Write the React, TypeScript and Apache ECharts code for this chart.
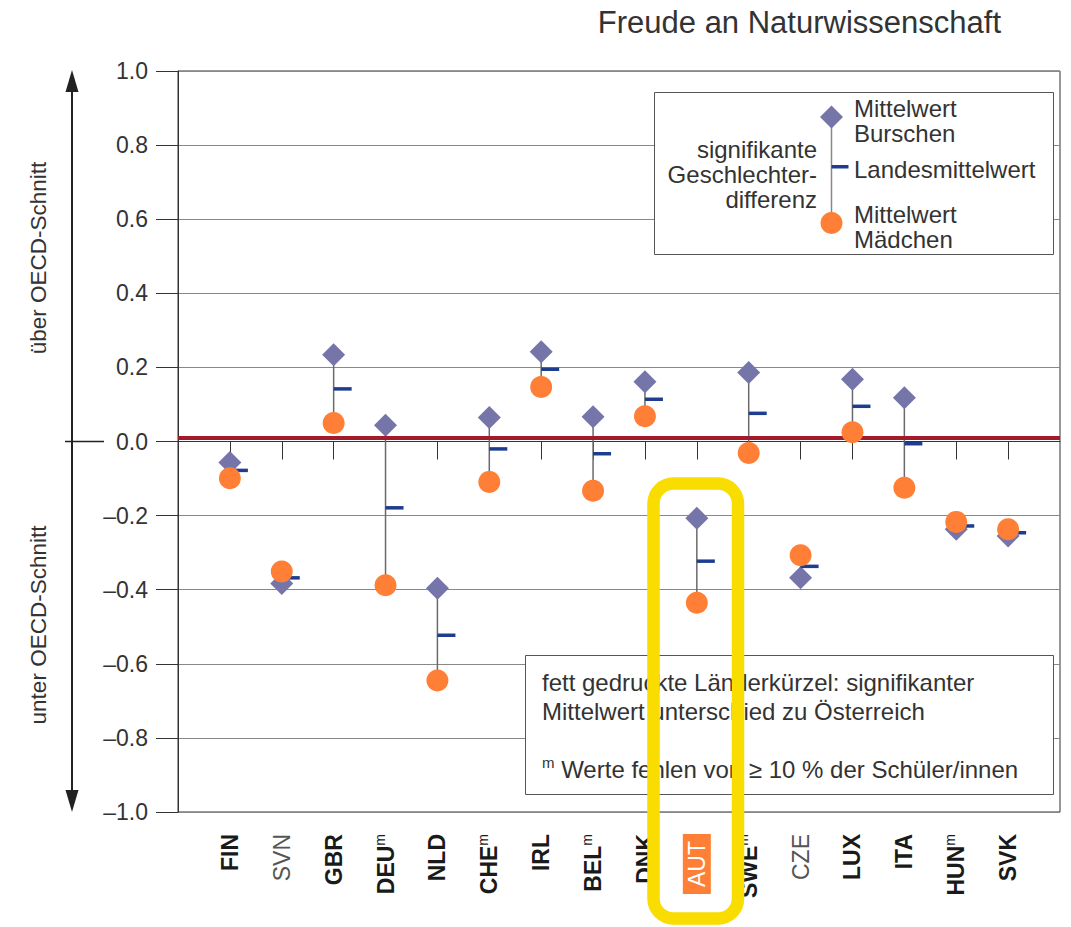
import React, { useEffect, useRef } from "react";
import * as echarts from "echarts";

const countries = ["FIN", "SVN", "GBR", "DEU", "NLD", "CHE", "IRL", "BEL", "DNK", "AUT", "SWE", "CZE", "LUX", "ITA", "HUN", "SVK"];
const boys = [-0.057, -0.383, 0.234, 0.044, -0.396, 0.065, 0.242, 0.067, 0.161, -0.207, 0.186, -0.368, 0.168, 0.118, -0.237, -0.255];
const girls = [-0.099, -0.351, 0.05, -0.388, -0.645, -0.109, 0.147, -0.133, 0.068, -0.435, -0.031, -0.307, 0.025, -0.125, -0.217, -0.237];
const means = [-0.078, -0.368, 0.142, -0.179, -0.523, -0.02, 0.195, -0.033, 0.114, -0.323, 0.076, -0.337, 0.095, -0.006, -0.228, -0.246];
const significant = [false, false, true, true, true, true, true, true, true, true, true, true, true, true, false, false];
const boldLabel = [true, false, true, true, true, true, true, true, true, true, true, false, true, true, true, true];
const missingMark = ["DEU", "CHE", "BEL", "SWE", "HUN"];
const highlighted = "AUT";
const oecdMean = 0.015;
const yTicks = { min: -1, max: 1, interval: 0.2 };

const FONT = "'Liberation Sans', Arial, sans-serif";
const TXT = "#333";

export default function App() {
  const ref = useRef<HTMLDivElement>(null);
  useEffect(() => {
    if (!ref.current) return;
    const chart = echarts.init(ref.current, undefined, { renderer: "svg" });
    const cats = ["", ...countries, ""];
    const idx = (i: number) => i + 1;
    const boyData = countries.map((_, i) => [idx(i), boys[i]]);
    const girlData = countries.map((_, i) => [idx(i), girls[i]]);
    const meanData = countries.map((_, i) => [idx(i), means[i]]);
    const connData = countries
      .map((_, i) => (significant[i] ? [idx(i), boys[i], girls[i]] : null))
      .filter((d) => d !== null);

    const option: any = {
      animation: false,
      grid: { left: 178, right: 11, top: 71, bottom: 115, show: true, borderColor: "#333", borderWidth: 1 },
      xAxis: {
        type: "category",
        data: cats,
        boundaryGap: false,
        axisLine: { lineStyle: { color: "#333", width: 1 } },
        axisTick: {
          length: 18,
          lineStyle: { color: "#333" },
          interval: (i: number) => i > 0 && i < cats.length - 1,
        },
        axisLabel: {
          rotate: 90,
          margin: 22,
          interval: 0,
          fontFamily: FONT,
          formatter: (v: string) => {
            const i = countries.indexOf(v);
            if (i < 0) return "";
            const sup = missingMark.includes(v) ? "{sup|m}" : "";
            if (v === highlighted) return `{hl|${v}}`;
            return (boldLabel[i] ? `{b|${v}}` : `{n|${v}}`) + sup;
          },
          rich: {
            b: { fontFamily: FONT, fontWeight: "bold", fontSize: 23, color: "#1a1a1a", lineHeight: 26 },
            n: { fontFamily: FONT, fontSize: 23, color: "#555", lineHeight: 26 },
            sup: { fontFamily: FONT, fontSize: 14, color: "#1a1a1a", lineHeight: 13, verticalAlign: "top" },
            hl: {
              fontFamily: FONT,
              fontSize: 23,
              color: "#fff",
              backgroundColor: "#FF7F36",
              padding: [3, 7, 2, 7],
              lineHeight: 24,
            },
          },
        },
        splitLine: { show: false },
      },
      yAxis: {
        type: "value",
        min: yTicks.min,
        max: yTicks.max,
        interval: yTicks.interval,
        axisLine: { show: true, lineStyle: { color: "#333" } },
        axisTick: { show: true, length: 22, lineStyle: { color: "#333" } },
        axisLabel: {
          margin: 30,
          fontFamily: FONT,
          fontSize: 23,
          color: TXT,
          formatter: (v: number) => {
            if (Math.abs(v) < 1e-9) return "0.0";
            const s = Math.abs(v).toFixed(1);
            return v < 0 ? "\u2013" + s : s;
          },
        },
        splitLine: { show: true, lineStyle: { color: "#888", width: 1 } },
      },
      series: [
        {
          type: "custom",
          name: "conn",
          data: connData,
          encode: { x: 0, y: [1, 2] },
          z: 2,
          renderItem: (params: any, api: any) => {
            const a = api.coord([api.value(0), api.value(1)]);
            const b = api.coord([api.value(0), api.value(2)]);
            return {
              type: "line",
              shape: { x1: a[0], y1: a[1], x2: b[0], y2: b[1] },
              style: { stroke: "#6a6a6a", lineWidth: 1.5 },
            };
          },
          markLine: {
            silent: true,
            symbol: "none",
            label: { show: false },
            lineStyle: { color: "#A31A2B", width: 4, type: "solid" },
            data: [{ yAxis: oecdMean }],
          },
        },
        {
          type: "scatter",
          name: "Mittelwert Burschen",
          data: boyData,
          symbol: "diamond",
          symbolSize: 23,
          itemStyle: { color: "#7575AA", opacity: 1 },
          z: 3,
        },
        {
          type: "custom",
          name: "Landesmittelwert",
          data: meanData,
          encode: { x: 0, y: 1 },
          z: 4,
          renderItem: (params: any, api: any) => {
            const p = api.coord([api.value(0), api.value(1)]);
            return {
              type: "rect",
              shape: { x: p[0], y: p[1] - 1.75, width: 18, height: 3.5 },
              style: { fill: "#1F3D8F" },
            };
          },
        },
        {
          type: "scatter",
          name: "Mittelwert Mädchen",
          data: girlData,
          symbol: "circle",
          symbolSize: 22,
          itemStyle: { color: "#FF7F36", opacity: 1 },
          z: 5,
        },
      ],
      graphic: [
        {
          type: "text",
          x: 1001,
          y: 22,
          z: 100,
          style: { text: "Freude an Naturwissenschaft", fontFamily: FONT, fontSize: 31, fill: TXT, textAlign: "right", textVerticalAlign: "middle" },
        },
        // left arrow
        { type: "line", z: 100, shape: { x1: 72, y1: 88, x2: 72, y2: 794 }, style: { stroke: "#222", lineWidth: 2 } },
        { type: "polygon", z: 100, shape: { points: [[72, 70], [65.5, 92], [78.5, 92]] }, style: { fill: "#222" } },
        { type: "polygon", z: 100, shape: { points: [[72, 812], [65.5, 790], [78.5, 790]] }, style: { fill: "#222" } },
        { type: "line", z: 100, shape: { x1: 65, y1: 441.5, x2: 104, y2: 441.5 }, style: { stroke: "#222", lineWidth: 1.5 } },
        {
          type: "text",
          x: 38,
          y: 258,
          rotation: Math.PI / 2,
          z: 100,
          style: { text: "über OECD-Schnitt", fontFamily: FONT, fontSize: 22.5, fill: TXT, textAlign: "center", textVerticalAlign: "middle" },
        },
        {
          type: "text",
          x: 38,
          y: 625,
          rotation: Math.PI / 2,
          z: 100,
          style: { text: "unter OECD-Schnitt", fontFamily: FONT, fontSize: 22.5, fill: TXT, textAlign: "center", textVerticalAlign: "middle" },
        },
        // legend box
        { type: "rect", z: 100, shape: { x: 654.5, y: 92.5, width: 399, height: 162 }, style: { fill: "#fff", stroke: "#555", lineWidth: 1 } },
        { type: "line", z: 101, shape: { x1: 831.5, y1: 117, x2: 831.5, y2: 223 }, style: { stroke: "#888", lineWidth: 1.5 } },
        { type: "polygon", z: 102, shape: { points: [[831.5, 105.5], [843, 117], [831.5, 128.5], [820, 117]] }, style: { fill: "#7575AA" } },
        { type: "rect", z: 102, shape: { x: 831.5, y: 165, width: 17, height: 3.5 }, style: { fill: "#1F3D8F" } },
        { type: "circle", z: 102, shape: { cx: 831.5, cy: 223, r: 11 }, style: { fill: "#FF7F36" } },
        { type: "text", z: 102, x: 854, y: 120.5, style: { text: "Mittelwert\nBurschen", fontFamily: FONT, fontSize: 24, lineHeight: 25, fill: TXT, textVerticalAlign: "middle" } },
        { type: "text", z: 102, x: 854, y: 169, style: { text: "Landesmittelwert", fontFamily: FONT, fontSize: 24, fill: TXT, textVerticalAlign: "middle" } },
        { type: "text", z: 102, x: 854, y: 226.5, style: { text: "Mittelwert\nMädchen", fontFamily: FONT, fontSize: 24, lineHeight: 25, fill: TXT, textVerticalAlign: "middle" } },
        {
          type: "text",
          z: 102,
          x: 817,
          y: 174,
          style: { text: "signifikante\nGeschlechter-\ndifferenz", fontFamily: FONT, fontSize: 24, lineHeight: 25, fill: TXT, textAlign: "right", textVerticalAlign: "middle" },
        },
        // note box
        { type: "rect", z: 100, shape: { x: 525.5, y: 655.5, width: 528, height: 139 }, style: { fill: "#fff", stroke: "#555", lineWidth: 1 } },
        {
          type: "text",
          z: 102,
          x: 542,
          y: 696.5,
          style: { text: "fett gedruckte Länderkürzel: signifikanter\nMittelwert unterschied zu Österreich", fontFamily: FONT, fontSize: 24, lineHeight: 29, fill: TXT, textVerticalAlign: "middle" },
        },
        {
          type: "text",
          z: 102,
          x: 542,
          y: 769,
          style: {
            text: "{s|m}{t| Werte fehlen von ≥ 10 % der Schüler/innen}",
            fontFamily: FONT,
            fontSize: 24,
            fill: TXT,
            textVerticalAlign: "middle",
            rich: {
              s: { fontFamily: FONT, fontSize: 15, fill: TXT, lineHeight: 12, verticalAlign: "top" },
              t: { fontFamily: FONT, fontSize: 24, fill: TXT, lineHeight: 28 },
            },
          },
        },
        // yellow highlight
        {
          type: "rect",
          z: 110,
          shape: { x: 653.5, y: 483.5, width: 84.5, height: 435, r: 20 },
          style: { fill: "none", stroke: "#F9DD00", lineWidth: 12.5 },
        },
      ],
    };
    chart.setOption(option);
    return () => chart.dispose();
  }, []);
  return <div ref={ref} style={{ position: "fixed", left: 0, top: 0, width: 1071, height: 927, background: "#fff" }} />;
}
